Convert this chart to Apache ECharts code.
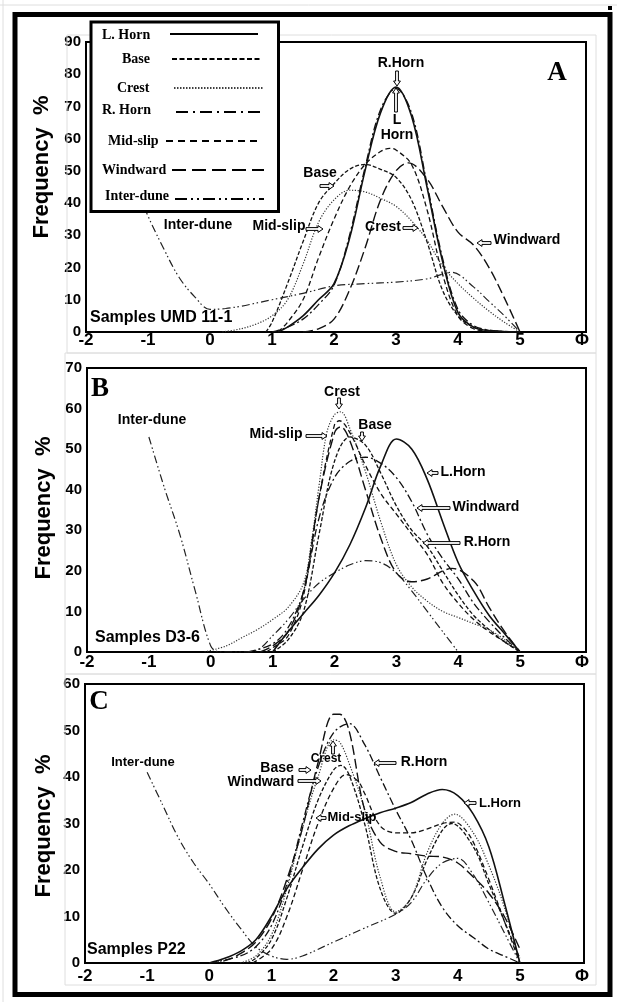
<!DOCTYPE html>
<html>
<head>
<meta charset="utf-8">
<script src="https://cdn.jsdelivr.net/npm/echarts@6/dist/echarts.min.js"></script>
<style>
html,body{margin:0;padding:0;background:#fff;}
#chart{width:617px;height:1002px;}
</style>
</head>
<body>
<div id="chart"></div>
<script>
// ---------- tick labels ----------
const xTickLabels = ['-2','-1','0','1','2','3','4','5','Φ'];
const yMaxA = 90, yMaxB = 70, yMaxC = 60;

// ---------- Panel A (Samples UMD 11-1) : [phi, frequency %] ----------
const A_LHorn = [[1.1,0],[1.25,1.5],[1.5,5],[1.75,10],[2.0,15],[2.25,29],[2.5,50],[2.75,68],[3.0,76],[3.25,67],[3.5,45],[3.75,22],[4.0,6],[4.25,1.5],[4.5,0.4],[4.75,0.1],[5.0,0]];
const A_RHorn = [[1.0,0],[1.25,1.5],[1.5,4],[1.75,8.5],[2.0,14.5],[2.25,30],[2.5,51],[2.75,69],[3.0,75.5],[3.25,68],[3.5,46],[3.75,23],[4.0,7],[4.25,2],[4.5,0.6],[4.75,0.2],[5.0,0]];
const A_Base = [[0.9,0],[1.0,3],[1.25,15],[1.5,28],[1.75,40],[2.0,46],[2.25,50.5],[2.5,52],[2.75,50.5],[3.0,48],[3.25,41],[3.5,28],[3.75,13],[4.0,5],[4.25,1.5],[4.5,0.5],[5.0,0]];
const A_Crest = [[0.2,0],[0.5,1],[0.75,2.5],[1.0,5],[1.25,10],[1.5,21],[1.75,34],[2.0,41],[2.25,44],[2.5,43.5],[2.75,41.5],[3.0,39],[3.25,34.5],[3.5,28.5],[3.75,20.5],[4.0,15],[4.25,10.5],[4.5,6.5],[4.75,3],[5.0,0]];
const A_MidSlip = [[1.1,0],[1.25,3],[1.5,10],[1.75,23],[2.0,35],[2.25,45],[2.5,52],[2.75,56],[2.9,57],[3.0,56.5],[3.25,52],[3.5,38],[3.75,18],[4.0,5],[4.25,1],[4.5,0.3],[5.0,0]];
const A_Windward = [[1.5,0],[1.75,1],[2.0,4],[2.25,13],[2.5,26],[2.75,41],[3.0,50],[3.2,52.5],[3.5,47.5],[3.75,39],[4.0,31],[4.25,27],[4.5,20],[4.75,10.5],[5.0,0]];
const A_InterDune = [[-1.3,50],[-1.0,36],[-0.75,26],[-0.5,17],[-0.25,11],[0,7],[0.25,7.3],[0.5,8],[0.75,9],[1.0,10],[1.5,12],[2.0,14.3],[2.5,15],[3.0,15.5],[3.5,16.5],[3.9,18.5],[4.25,14],[4.5,9.5],[4.75,5],[5.0,0]];

// ---------- Panel B (Samples D3-6) ----------
const B_LHorn = [[1.0,0],[1.25,5],[1.5,9.5],[1.75,14],[2.0,19.5],[2.25,26.5],[2.5,35.5],[2.75,46],[3.0,52.5],[3.25,50],[3.5,42.5],[3.75,32],[4.0,22],[4.25,15],[4.5,9],[4.75,4.5],[5.0,0]];
const B_Crest = [[-0.1,0],[0.25,1.5],[0.5,3.5],[0.75,5.5],[1.0,8],[1.25,11],[1.5,17],[1.625,27],[1.75,41],[1.875,54],[2.0,58.5],[2.1,59.2],[2.25,55],[2.5,44.5],[2.75,32],[3.0,21.5],[3.25,16],[3.5,12.5],[3.75,10],[4.0,8.5],[4.25,7],[4.5,5.5],[4.75,3],[5.0,0]];
const B_MidSlip = [[0.9,0],[1.0,1],[1.25,4],[1.5,14],[1.75,38],[2.0,56],[2.08,57],[2.25,54],[2.5,46],[2.75,39],[3.0,34],[3.25,29],[3.5,24],[3.75,17],[4.0,12],[4.25,8],[4.5,5],[4.75,2.5],[5.0,0]];
const B_Base = [[1.0,0],[1.25,3],[1.5,10],[1.75,29],[2.0,47],[2.25,53],[2.5,51],[2.75,44],[3.0,36],[3.25,30],[3.5,26],[3.75,20],[4.0,14],[4.25,9],[4.5,5.5],[4.75,2.5],[5.0,0]];
const B_Windward = [[0.8,0],[1.0,1.5],[1.25,5],[1.5,15],[1.75,38],[2.0,54],[2.1,55.5],[2.25,52],[2.5,40],[2.75,28],[3.0,19.5],[3.25,17.3],[3.5,18],[3.75,20],[3.9,20.6],[4.25,17.5],[4.5,11],[4.75,5],[5.0,0]];
const B_RHorn = [[0.6,0],[1.0,2],[1.25,6],[1.5,15],[1.75,33],[2.0,43],[2.25,47],[2.5,48],[2.75,46.5],[3.0,43],[3.25,37],[3.5,29],[3.75,23],[4.0,18],[4.25,12],[4.5,7.5],[4.75,3.5],[5.0,0]];
const B_InterDune = [[-1.0,53],[-0.75,40.5],[-0.5,29],[-0.25,15],[0,1.5],[0.15,0],[0.5,0],[0.75,0.5],[1.0,4],[1.25,8],[1.5,13],[1.75,17],[2.0,19.5],[2.25,21.5],[2.5,22.5],[2.75,22],[3.0,19.5],[3.25,15],[3.5,10],[3.75,5],[4.0,0]];

// ---------- Panel C (Samples P22) ----------
const C_LHorn = [[0,0],[0.25,1],[0.5,2.5],[0.75,5],[1.0,10],[1.25,16],[1.5,20.5],[1.75,24.5],[2.0,27.5],[2.25,29.5],[2.5,31],[2.75,32.3],[3.0,33.3],[3.25,34.5],[3.5,36.3],[3.75,37.3],[4.0,36],[4.25,32],[4.5,25],[4.75,13],[5.0,0]];
const C_Windward = [[0,0],[0.25,0.5],[0.5,2],[0.75,4.5],[1.0,9.5],[1.25,18],[1.5,29],[1.75,43],[2.0,53.5],[2.1,53.5],[2.25,50],[2.5,33],[2.75,26],[3.0,24],[3.25,23.5],[3.5,23],[3.75,22.8],[4.0,21.5],[4.25,18.5],[4.5,15],[4.75,10],[5.0,3]];
const C_RHorn = [[0,0],[0.5,1.5],[0.75,3.5],[1.0,8],[1.25,17],[1.5,30],[1.75,42],[2.0,49.5],[2.25,51.5],[2.5,47],[2.75,40],[3.0,33],[3.25,26.5],[3.5,18.5],[3.75,12],[4.0,8],[4.25,5.5],[4.5,3],[4.75,1.5],[5.0,0]];
const C_Crest = [[0.5,0],[0.75,1.5],[1.0,6],[1.25,16],[1.5,29],[1.75,40],[2.0,48],[2.1,47.5],[2.25,43],[2.5,33],[2.75,18.5],[3.0,11],[3.25,14],[3.5,23.5],[3.75,30],[3.95,32],[4.25,28],[4.5,21],[4.75,12],[5.0,0]];
const C_Base = [[0.6,0],[0.75,1],[1.0,5],[1.25,14],[1.5,25],[1.75,35],[2.0,41.5],[2.12,42.5],[2.25,40.5],[2.5,30],[2.75,16],[3.0,10.7],[3.25,14],[3.5,22],[3.75,28.5],[3.9,30],[4.25,25],[4.5,17],[4.75,9],[5.0,1]];
const C_MidSlip = [[0.7,0],[1.0,3],[1.25,10],[1.5,20],[1.75,30],[2.0,37.5],[2.2,40.5],[2.4,39],[2.5,36.5],[2.75,29.5],[3.0,28],[3.25,28],[3.5,28.8],[3.75,30],[3.95,30.3],[4.1,29],[4.25,26],[4.5,18],[4.75,9],[5.0,0]];
const C_InterDune = [[-1.0,41],[-0.75,34],[-0.5,27],[-0.25,21.5],[0,17],[0.25,12],[0.5,7.5],[0.75,3.5],[1.0,1.5],[1.25,0.8],[1.5,1.5],[2.0,4.5],[2.5,7.5],[3.0,10.5],[3.25,13],[3.5,18],[3.75,21.5],[4.0,22.5],[4.25,19],[4.5,13],[4.75,6.5],[5.0,0]];

// ---------- styles ----------
const SANS = '"Liberation Sans", Arial, Helvetica, sans-serif';
const SERIF = '"Liberation Serif", "Times New Roman", serif';
const lineStyles = {
  LHorn:    {width:1.6, type:'solid', color:'#111'},
  Base:     {width:1.3, type:[4,2], color:'#111'},
  Crest:    {width:1.2, type:[1.2,1.6], color:'#333'},
  RHorn:    {width:1.3, type:[8,3,2,3], color:'#111'},
  MidSlip:  {width:1.3, type:[5,3], color:'#111'},
  Windward: {width:1.4, type:[10,4], color:'#111'},
  InterDune:{width:1.2, type:[8,3,1.5,2.5,1.5,3], color:'#222'}
};
const legendDash = {
  LHorn:null, Base:[5,2.5], Crest:[1.5,1.5], RHorn:[12,5,2,5], MidSlip:[7,5], Windward:[14,6], InterDune:[12,4,2,4,2,4]
};

const panels = [
  {g:0, ymax:yMaxA, series:{LHorn:A_LHorn,RHorn:A_RHorn,Base:A_Base,Crest:A_Crest,MidSlip:A_MidSlip,Windward:A_Windward,InterDune:A_InterDune}},
  {g:1, ymax:yMaxB, series:{LHorn:B_LHorn,RHorn:B_RHorn,Base:B_Base,Crest:B_Crest,MidSlip:B_MidSlip,Windward:B_Windward,InterDune:B_InterDune}},
  {g:2, ymax:yMaxC, series:{LHorn:C_LHorn,RHorn:C_RHorn,Base:C_Base,Crest:C_Crest,MidSlip:C_MidSlip,Windward:C_Windward,InterDune:C_InterDune}}
];

// layout
const grids = [
  {left:86, top:42, width:500, height:290, phiAt6:582, labMargin:0},
  {left:87, top:368, width:499, height:284, phiAt6:582, labMargin:2},
  {left:85, top:684, width:499, height:279, phiAt6:582, labMargin:5}
];

const series = [];
panels.forEach(p => {
  Object.keys(p.series).forEach(k => {
    series.push({
      type:'line', name:k, xAxisIndex:p.g, yAxisIndex:p.g,
      data:p.series[k], smooth:0.35, symbol:'none', showSymbol:false,
      lineStyle:Object.assign({}, lineStyles[k]), clip:true, silent:true, animation:false,
      z: k==='LHorn'?3:2
    });
  });
});

const xAxes = grids.map((g,i) => ({
  type:'value', gridIndex:i, min:-2,
  max: -2 + 8*g.width/(g.phiAt6 - g.left), interval:1,
  axisLine:{show:false}, axisTick:{show:false}, splitLine:{show:false},
  axisLabel:{
    margin:g.labMargin, color:'#000', fontFamily:SANS, fontWeight:'bold', fontSize:17,
    formatter: v => (Number.isInteger(v) && v>=-2 && v<=6) ? xTickLabels[v+2] : ''
  }
}));
const yAxes = panels.map((p,i) => ({
  type:'value', gridIndex:i, min:0, max:p.ymax, interval:10,
  axisLine:{show:false}, axisTick:{show:false}, splitLine:{show:false},
  axisLabel:{margin:5, color:'#000', fontFamily:SANS, fontWeight:'bold', fontSize:15}
}));

// ---------- graphics ----------
const G = [];
function txt(t, x, y, font, align, rot){
  G.push({type:'text', x:x, y:y, rotation:rot||0, z:101,
    style:{text:t, font:font, fill:'#000', textAlign:align||'center', textVerticalAlign:'middle'}});
}
function arrow(x1,y1,x2,y2){
  const dx=x2-x1, dy=y2-y1, L=Math.hypot(dx,dy), ux=dx/L, uy=dy/L, nx=-uy, ny=ux;
  const h=Math.min(5, L*0.6), s=1.4, w=3.4;
  const bx=x2-ux*h, by=y2-uy*h;
  const pts=[[x1+nx*s,y1+ny*s],[bx+nx*s,by+ny*s],[bx+nx*w,by+ny*w],[x2,y2],[bx-nx*w,by-ny*w],[bx-nx*s,by-ny*s],[x1-nx*s,y1-ny*s]];
  G.push({type:'polygon', z:101, shape:{points:pts}, style:{fill:'#fff', stroke:'#000', lineWidth:1}});
}
function gline(x1,y1,x2,y2,color,w,dash,z){
  G.push({type:'line', z:z||101, shape:{x1,y1,x2,y2}, style:{stroke:color, lineWidth:w, lineDash:dash||null}});
}

// faint scan lines
const faint='#dedede';
gline(0,5,617,5,faint,1,null,1); gline(3,0,3,1002,faint,1,null,1);
[[67,35,596,353],[65,353,596,674],[65,674,596,985]].forEach(r=>{
  G.push({type:'rect', z:1, shape:{x:r[0],y:r[1],width:r[2]-r[0],height:r[3]-r[1]}, style:{fill:'none', stroke:faint, lineWidth:1}});
});

// outer frame
G.push({type:'rect', z:102, shape:{x:15,y:14.5,width:595,height:980}, style:{fill:'none', stroke:'#000', lineWidth:5}});
G.push({type:'rect', z:102, shape:{x:608,y:6,width:4,height:4}, style:{fill:'#000'}});

// Frequency % labels
const yTitle = 'Frequency  %';
txt(yTitle, 42, 167, 'bold 22px '+SANS, 'center', Math.PI/2);
txt(yTitle, 44, 508, 'bold 22px '+SANS, 'center', Math.PI/2);
txt(yTitle, 44, 826, 'bold 22px '+SANS, 'center', Math.PI/2);

// panel letters
txt('A', 557, 73, 'bold 27px '+SERIF);
txt('B', 100, 389, 'bold 27px '+SERIF);
txt('C', 99, 702, 'bold 27px '+SERIF);

// sample names
txt('Samples UMD 11-1', 90, 318, 'bold 16px '+SANS, 'left');
txt('Samples D3-6', 95, 638, 'bold 16px '+SANS, 'left');
txt('Samples P22', 87, 950, 'bold 16px '+SANS, 'left');

// legend box (panel A)
G.push({type:'rect', z:100, shape:{x:91,y:22,width:187.5,height:189.5}, style:{fill:'#fff', stroke:'#000', lineWidth:3}});
const legendRows = [
  ['L. Horn','LHorn',102,35,170,258,34],
  ['Base','Base',122,59,172,261,59],
  ['Crest','Crest',117,88,174,264,88],
  ['R. Horn','RHorn',102,110,176,265,112],
  ['Mid-slip','MidSlip',108,141,166,262,141],
  ['Windward','Windward',102,170,172,264,170],
  ['Inter-dune','InterDune',105,196,175,264,199]
];
legendRows.forEach(r=>{
  txt(r[0], r[2], r[3], 'bold 14px '+SERIF, 'left');
  gline(r[4], r[6], r[5], r[6], '#000', r[1]==='Crest'?1.5:2, legendDash[r[1]], 101);
});

// annotations panel A
const F14='bold 14px '+SANS, F13='bold 13px '+SANS, F12='bold 12px '+SANS;
txt('R.Horn', 401, 63, F14); arrow(397,71,397,86);
txt('L', 397, 120, F14); txt('Horn', 397, 135, F14); arrow(396,112,396,88);
txt('Base', 320, 173, F14); arrow(320,186,334,186);
txt('Mid-slip', 279, 226, F14); arrow(306,229,323,229);
txt('Inter-dune', 198, 225, F14);
txt('Crest', 383, 227, F14); arrow(403,228,418,228);
txt('Windward', 527, 240, F14); arrow(491,243,477,243);

// annotations panel B
txt('Inter-dune', 152, 420, F14);
txt('Crest', 342, 392, F14); arrow(339,398,339,409);
txt('Base', 375, 425, F14); arrow(362,432,362,441);
txt('Mid-slip', 276, 434, F14); arrow(306,436,327,436);
txt('L.Horn', 463, 472, F14); arrow(438,473,427,473);
txt('Windward', 486, 507, F14); arrow(450,508,417,508);
txt('R.Horn', 487, 542, F14); arrow(460,543,423,543);

// annotations panel C
txt('Inter-dune', 143, 762, F13);
txt('Crest', 326, 759, F12); arrow(333,754,333,741);
txt('Base', 277, 768, F14); arrow(299,770,311,770);
txt('Windward', 261, 782, F14); arrow(298,781,321,781);
txt('R.Horn', 424, 762, F14); arrow(396,763,374,763);
txt('Mid-slip', 352, 817, F13); arrow(326,818,316,818);
txt('L.Horn', 500, 803, F13); arrow(476,803,464,803);

const chart = echarts.init(document.getElementById('chart'), null, {renderer:'canvas'});
chart.setOption({
  animation:false,
  backgroundColor:'#fff',
  grid: grids.map(g=>({left:g.left, top:g.top, width:g.width, height:g.height, show:true, borderColor:'#000', borderWidth:2, backgroundColor:'transparent', containLabel:false})),
  xAxis: xAxes,
  yAxis: yAxes,
  series: series,
  graphic: {elements: G}
});
</script>
</body>
</html>
